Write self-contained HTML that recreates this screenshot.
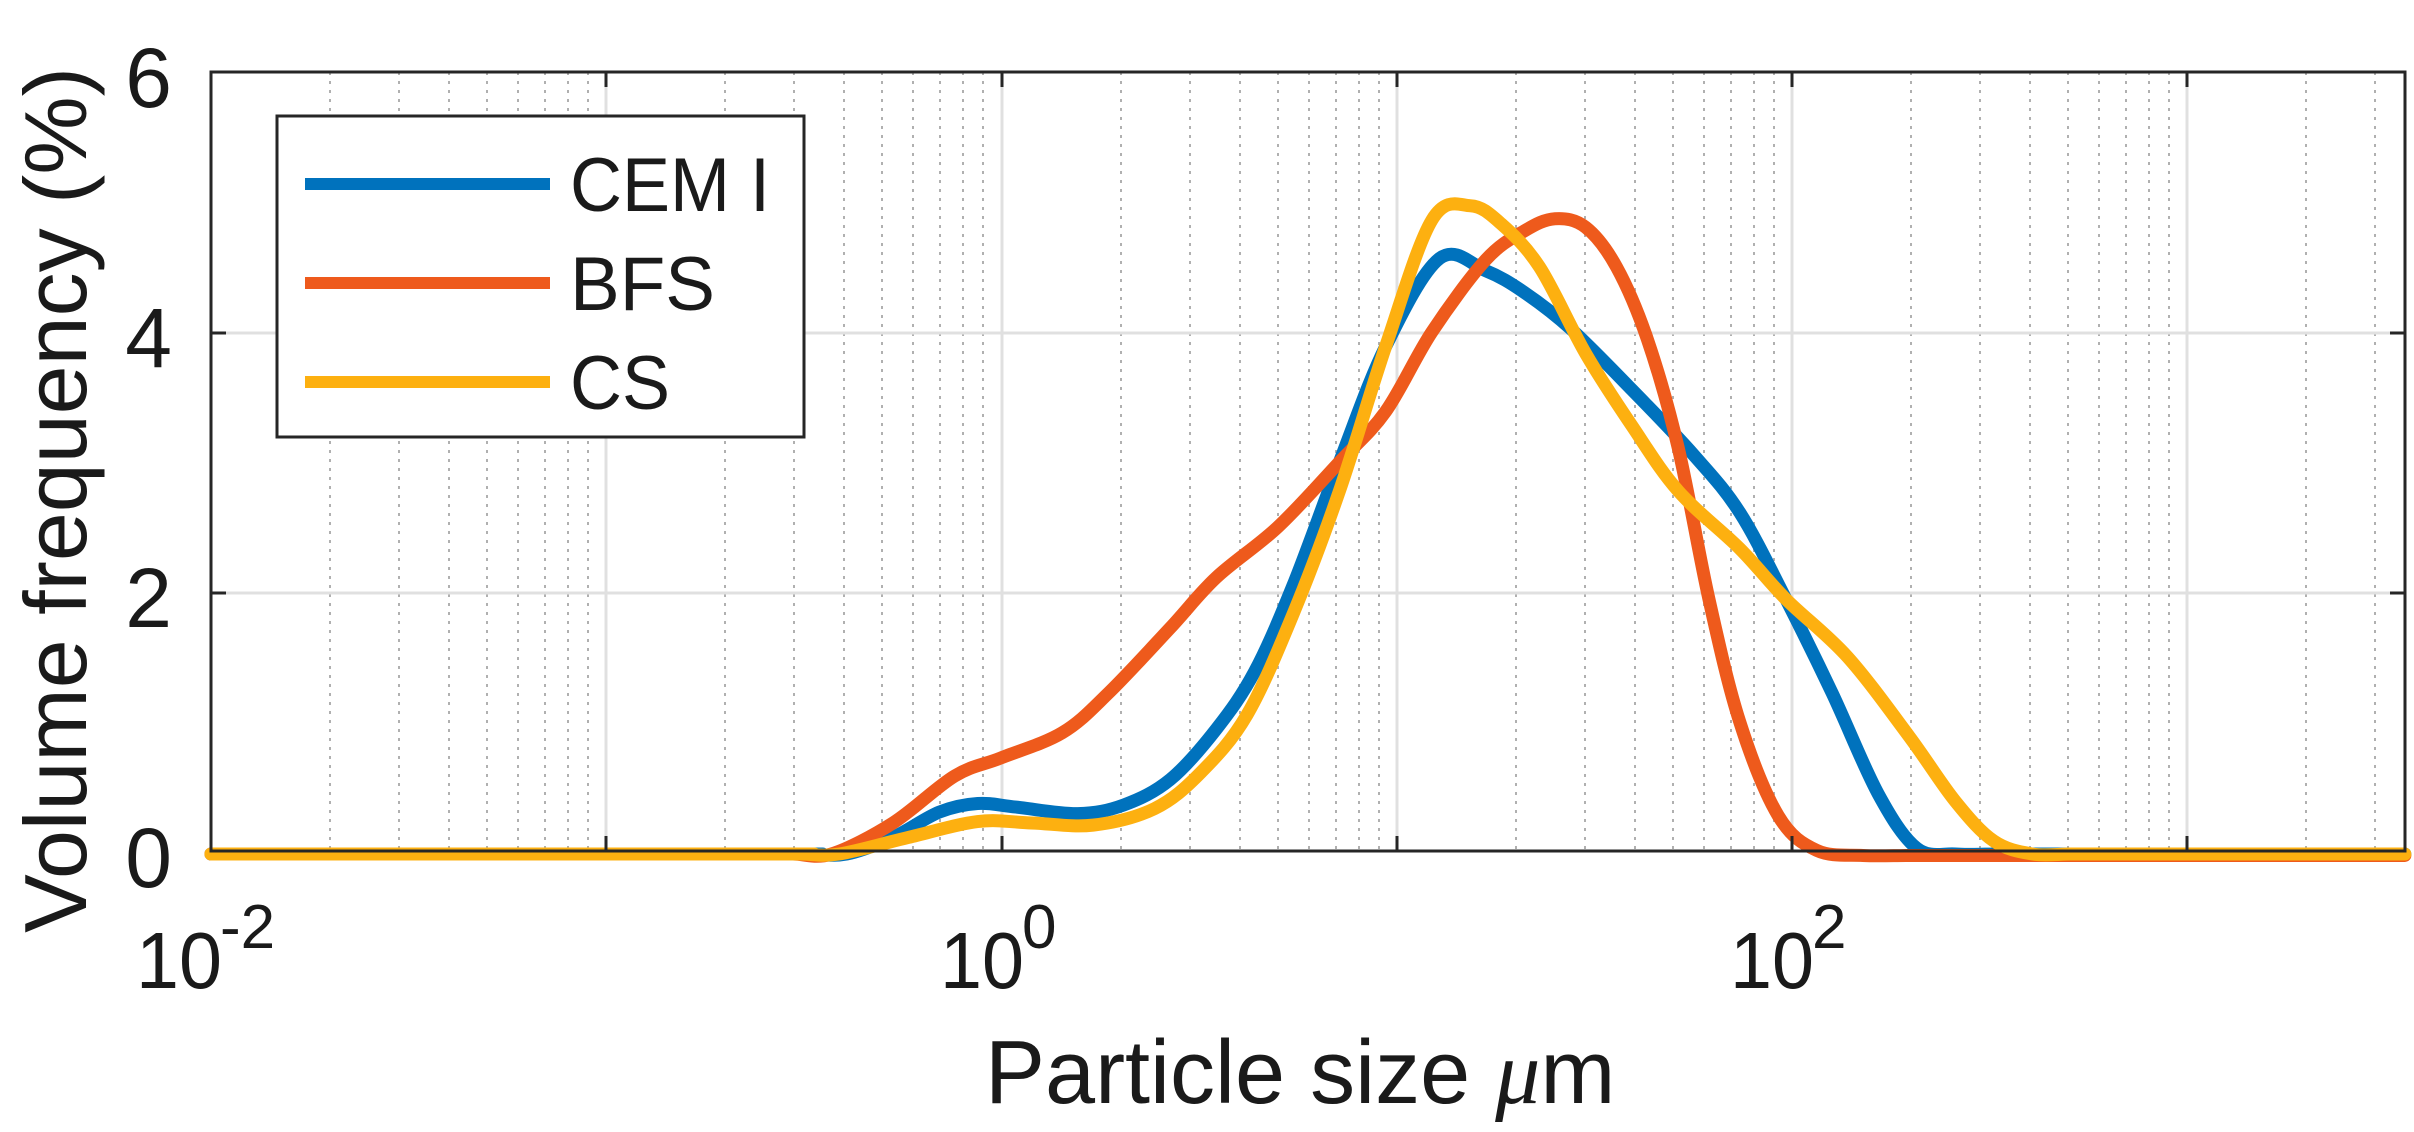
<!DOCTYPE html>
<html><head><meta charset="utf-8"><style>
html,body{margin:0;padding:0;background:#fff;}
svg{display:block;}
text{font-family:"Liberation Sans",Arial,sans-serif;fill:#1a1a1a;}
</style></head><body>
<svg width="2414" height="1132" viewBox="0 0 2414 1132" xmlns="http://www.w3.org/2000/svg">
<rect width="2414" height="1132" fill="#fff"/>
<g stroke="#b0b0b0" stroke-width="2" stroke-dasharray="3,6">
<line x1="330" y1="72" x2="330" y2="851"/><line x1="399" y1="72" x2="399" y2="851"/><line x1="449" y1="72" x2="449" y2="851"/><line x1="487" y1="72" x2="487" y2="851"/><line x1="518" y1="72" x2="518" y2="851"/><line x1="545" y1="72" x2="545" y2="851"/><line x1="568" y1="72" x2="568" y2="851"/><line x1="588" y1="72" x2="588" y2="851"/>
<line x1="725" y1="72" x2="725" y2="851"/><line x1="794" y1="72" x2="794" y2="851"/><line x1="844" y1="72" x2="844" y2="851"/><line x1="882" y1="72" x2="882" y2="851"/><line x1="913" y1="72" x2="913" y2="851"/><line x1="940" y1="72" x2="940" y2="851"/><line x1="963" y1="72" x2="963" y2="851"/><line x1="983" y1="72" x2="983" y2="851"/>
<line x1="1121" y1="72" x2="1121" y2="851"/><line x1="1190" y1="72" x2="1190" y2="851"/><line x1="1240" y1="72" x2="1240" y2="851"/><line x1="1278" y1="72" x2="1278" y2="851"/><line x1="1309" y1="72" x2="1309" y2="851"/><line x1="1336" y1="72" x2="1336" y2="851"/><line x1="1359" y1="72" x2="1359" y2="851"/><line x1="1379" y1="72" x2="1379" y2="851"/>
<line x1="1516" y1="72" x2="1516" y2="851"/><line x1="1585" y1="72" x2="1585" y2="851"/><line x1="1635" y1="72" x2="1635" y2="851"/><line x1="1673" y1="72" x2="1673" y2="851"/><line x1="1704" y1="72" x2="1704" y2="851"/><line x1="1731" y1="72" x2="1731" y2="851"/><line x1="1754" y1="72" x2="1754" y2="851"/><line x1="1774" y1="72" x2="1774" y2="851"/>
<line x1="1911" y1="72" x2="1911" y2="851"/><line x1="1980" y1="72" x2="1980" y2="851"/><line x1="2030" y1="72" x2="2030" y2="851"/><line x1="2068" y1="72" x2="2068" y2="851"/><line x1="2099" y1="72" x2="2099" y2="851"/><line x1="2126" y1="72" x2="2126" y2="851"/><line x1="2149" y1="72" x2="2149" y2="851"/><line x1="2169" y1="72" x2="2169" y2="851"/>
<line x1="2306" y1="72" x2="2306" y2="851"/><line x1="2375" y1="72" x2="2375" y2="851"/>
</g>
<g stroke="#e0e0e0" stroke-width="3">
<line x1="606" y1="72" x2="606" y2="851"/><line x1="1002" y1="72" x2="1002" y2="851"/><line x1="1397" y1="72" x2="1397" y2="851"/><line x1="1792" y1="72" x2="1792" y2="851"/><line x1="2187" y1="72" x2="2187" y2="851"/>
<line x1="211" y1="593" x2="2405" y2="593"/><line x1="211" y1="333" x2="2405" y2="333"/>
</g>
<g id="curves" transform="scale(1.5396,0.7219)" fill="none" stroke-width="13" stroke-linejoin="round" stroke-linecap="round">
<polyline vector-effect="non-scaling-stroke" stroke="#0072BD" points="137,1183 500,1183 525,1183 550,1183 580,1160 610,1125 635,1113 660,1118 700,1127 730,1115 760,1080 790,1010 815,930 840,810 870,640 900,480 935,358 965,375 990,405 1020,455 1060,540 1100,630 1130,710 1160,830 1190,960 1220,1100 1245,1175 1270,1183 1295,1183 1320,1183 1562,1183"/>
<polyline vector-effect="non-scaling-stroke" stroke="#EE5A1C" points="137,1183 490,1183 515,1183 540,1183 580,1140 620,1075 650,1050 690,1015 720,960 760,870 790,800 830,730 870,640 900,570 930,460 965,360 990,320 1010,303 1030,315 1050,370 1070,470 1090,620 1110,830 1130,1000 1155,1130 1180,1178 1210,1185 1240,1185 1270,1185 1562,1185"/>
<polyline vector-effect="non-scaling-stroke" stroke="#FDB010" points="137,1183 495,1183 520,1183 545,1183 590,1160 635,1138 670,1140 710,1143 750,1120 780,1070 810,990 840,850 870,680 900,480 930,305 955,285 975,310 1000,370 1030,490 1060,590 1090,680 1130,760 1160,830 1200,910 1240,1020 1270,1110 1295,1165 1320,1183 1345,1183 1370,1183 1562,1183"/>
</g>
<rect x="211" y="72" width="2194" height="779" fill="none" stroke="#262626" stroke-width="3"/>
<g stroke="#262626" stroke-width="3">
<line x1="606" y1="851" x2="606" y2="836"/><line x1="1002" y1="851" x2="1002" y2="836"/><line x1="1397" y1="851" x2="1397" y2="836"/><line x1="1792" y1="851" x2="1792" y2="836"/><line x1="2187" y1="851" x2="2187" y2="836"/>
<line x1="606" y1="72" x2="606" y2="87"/><line x1="1002" y1="72" x2="1002" y2="87"/><line x1="1397" y1="72" x2="1397" y2="87"/><line x1="1792" y1="72" x2="1792" y2="87"/><line x1="2187" y1="72" x2="2187" y2="87"/>
<line x1="211" y1="593" x2="226" y2="593"/><line x1="211" y1="333" x2="226" y2="333"/>
<line x1="2405" y1="593" x2="2390" y2="593"/><line x1="2405" y1="333" x2="2390" y2="333"/>
</g>
<g font-size="84" text-anchor="end">
<text x="172" y="887">0</text>
<text x="172" y="627">2</text>
<text x="172" y="367">4</text>
<text x="172" y="107">6</text>
</g>
<g font-size="80">
<text x="136" y="988" textLength="86" lengthAdjust="spacingAndGlyphs">10</text>
<text x="220" y="948" font-size="62">-2</text>
<text x="940" y="988" textLength="84" lengthAdjust="spacingAndGlyphs">10</text>
<text x="1022" y="948" font-size="62">0</text>
<text x="1730" y="988" textLength="84" lengthAdjust="spacingAndGlyphs">10</text>
<text x="1812" y="948" font-size="62">2</text>
</g>
<text x="985" y="1103" font-size="90">Particle size <tspan font-family="Liberation Serif, serif" font-style="italic">μ</tspan>m</text>
<text transform="translate(86,500) rotate(-90)" font-size="88" text-anchor="middle">Volume frequency (%)</text>
<rect x="277" y="116" width="527" height="321" fill="#fff" stroke="#262626" stroke-width="3"/>
<g stroke-width="12">
<line x1="305" y1="184" x2="550" y2="184" stroke="#0072BD"/>
<line x1="305" y1="283" x2="550" y2="283" stroke="#EE5A1C"/>
<line x1="305" y1="382" x2="550" y2="382" stroke="#FDB010"/>
</g>
<g font-size="76">
<text x="570" y="211" textLength="200" lengthAdjust="spacingAndGlyphs">CEM I</text>
<text x="570" y="310" textLength="145" lengthAdjust="spacingAndGlyphs">BFS</text>
<text x="570" y="409" textLength="100" lengthAdjust="spacingAndGlyphs">CS</text>
</g>
</svg>
<script>
(function(){
var g=document.getElementById('curves');
var pls=g.querySelectorAll('polyline');
for(var k=0;k<pls.length;k++){
 var pl=pls[k];
 var pts=pl.getAttribute('points').trim().split(/\s+/).map(function(s){var a=s.split(',');return [+a[0],+a[1]];});
 var d='M'+pts[0][0]+','+pts[0][1];
 for(var i=0;i<pts.length-1;i++){
  var p1=pts[i],p2=pts[i+1];
  if(p1[1]===p2[1]&&(i===0||i===pts.length-2)){d+=' L'+p2[0]+','+p2[1];continue;}
  var p0=pts[i>0?i-1:0],p3=pts[i+2<pts.length?i+2:i+1];
  var c1x=p1[0]+(p2[0]-p0[0])/6,c1y=p1[1]+(p2[1]-p0[1])/6;
  var c2x=p2[0]-(p3[0]-p1[0])/6,c2y=p2[1]-(p3[1]-p1[1])/6;
  d+=' C'+c1x+','+c1y+' '+c2x+','+c2y+' '+p2[0]+','+p2[1];
 }
 var path=document.createElementNS('http://www.w3.org/2000/svg','path');
 path.setAttribute('d',d);
 path.setAttribute('stroke',pl.getAttribute('stroke'));
 path.setAttribute('vector-effect','non-scaling-stroke');
 g.replaceChild(path,pl);
}
})();
</script>
</body></html>
